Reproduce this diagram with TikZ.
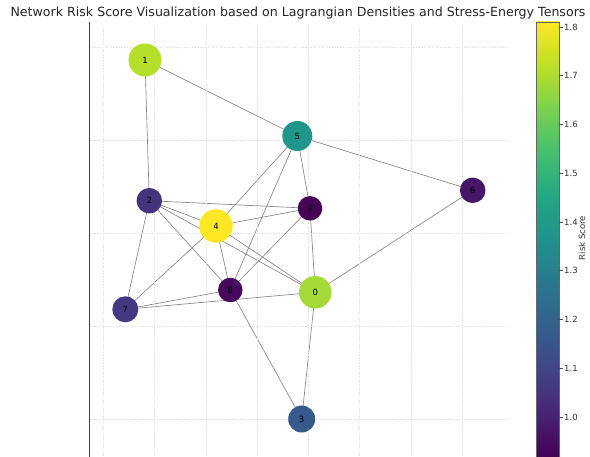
\documentclass[tikz,border=0pt]{standalone}
\usepackage{fontspec}
\setmainfont{DejaVu Sans}
\usepackage{xcolor}
\usetikzlibrary{backgrounds}
\definecolor{vir0}{HTML}{440154}
\definecolor{vir1}{HTML}{482475}
\definecolor{vir2}{HTML}{414487}
\definecolor{vir3}{HTML}{355F8D}
\definecolor{vir4}{HTML}{2A788E}
\definecolor{vir5}{HTML}{21918C}
\definecolor{vir6}{HTML}{22A884}
\definecolor{vir7}{HTML}{44BF70}
\definecolor{vir8}{HTML}{7AD151}
\definecolor{vir9}{HTML}{BDDF26}
\definecolor{vir10}{HTML}{FDE725}
\definecolor{risk0}{HTML}{A3DA37}
\definecolor{risk1}{HTML}{B5DE2B}
\definecolor{risk2}{HTML}{46337E}
\definecolor{risk3}{HTML}{38598C}
\definecolor{risk4}{HTML}{FDE725}
\definecolor{risk5}{HTML}{1F968B}
\definecolor{risk6}{HTML}{481668}
\definecolor{risk7}{HTML}{453781}
\definecolor{risk8}{HTML}{460A5D}
\definecolor{risk9}{HTML}{440356}
\pgfdeclareverticalshading{viridis}{100bp}{color(0bp)=(vir0); color(25bp)=(vir0);
  color(30bp)=(vir1); color(35bp)=(vir2); color(40bp)=(vir3); color(45bp)=(vir4);
  color(50bp)=(vir5); color(55bp)=(vir6); color(60bp)=(vir7); color(65bp)=(vir8);
  color(70bp)=(vir9); color(75bp)=(vir10); color(100bp)=(vir10)}

\begin{document}
\begin{tikzpicture}[x=1pt, y=-1pt,
                risk/.style 2 args = {circle, fill=#1, minimum size=#2, inner sep=0pt,
                    font=\fontsize{8.5}{10}\selectfont},
                link/.style = {draw=black!48, line width=0.65pt},
                gridline/.style = {draw=black!11, line width=0.5pt, dash pattern=on 1.5pt off 1.2pt},
                ticklabel/.style = {anchor=west, inner sep=0pt, font=\fontsize{8.5}{10}\selectfont, text=black!80}]
            \useasboundingbox (0,0) rectangle (590,457);
            \foreach \gx in {103,154.5,206,257,308,359.5,411,462}
                \draw[gridline] (\gx,25) -- (\gx,457);
            \foreach \gy in {47,140,233,326,419}
                \draw[gridline] (89,\gy) -- (510,\gy);
            \draw[black!75, line width=0.8pt] (89,22) -- (89,457);
            \node[font=\fontsize{12.6}{14}\selectfont, text=black!85] (title) at (298,13)
                {Network Risk Score Visualization based on Lagrangian Densities and Stress-Energy Tensors};
            \node[risk={risk0}{32.5pt}] (n0) at (315.3,292.3) {0};
            \node[risk={risk1}{33pt}] (n1) at (145,60) {1};
            \node[risk={risk2}{25.5pt}] (n2) at (149.3,200.7) {2};
            \node[risk={risk3}{27pt}] (n3) at (301.7,419) {3};
            \node[risk={risk4}{33.5pt}] (n4) at (216,226) {4};
            \node[risk={risk5}{30pt}] (n5) at (297.3,136) {5};
            \node[risk={risk6}{25.5pt}] (n6) at (472.7,190.3) {6};
            \node[risk={risk7}{26pt}] (n7) at (125.3,309.3) {7};
            \node[risk={risk8}{24.5pt}] (n8) at (230.3,290) {8};
            \node[risk={risk9}{24.5pt}] (n9) at (310,208.3) {9};
            \begin{pgfonlayer}{background}
                \foreach \a/\b in {1/5,1/2,5/6,5/4,5/8,5/9,2/9,2/4,2/8,2/0,2/7,4/9,4/7,4/8,4/0,9/8,9/0,0/6,0/7,0/3,8/7,8/3}
                    \draw[link] (n\a.center) -- (n\b.center);
            \end{pgfonlayer}
            \shade[shading=viridis] (536,22) rectangle (559,457);
            \draw[black!60, line width=0.6pt] (536,457) -- (536,22) -- (559,22) -- (559,457);
            \foreach \val [count=\k from 0] in {1.8,1.7,1.6,1.5,1.4,1.3,1.2,1.1,1.0} {
                \draw[black!70, line width=0.5pt] (559,27+48.75*\k) -- (562.5,27+48.75*\k);
                \node[ticklabel] (tick\k) at (564,27+48.75*\k) {\val};
            }
            \node[rotate=90, font=\fontsize{8.5}{10}\selectfont, text=black!80] (cbar) at (582,238) {Risk Score};
            \end{tikzpicture}
\end{document}
